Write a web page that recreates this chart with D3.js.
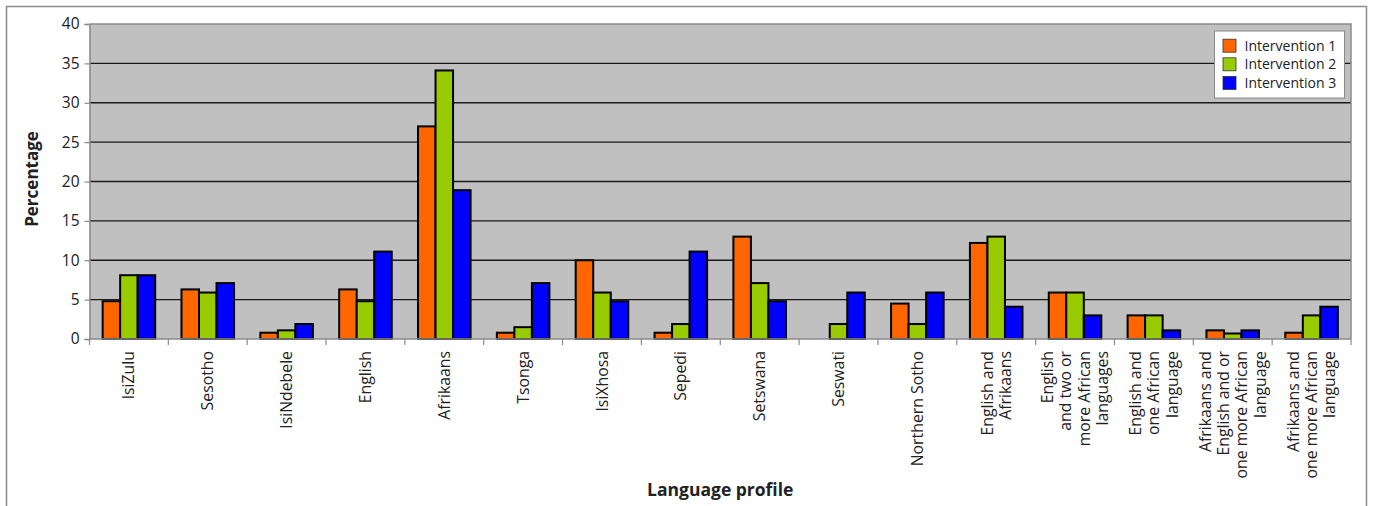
<!DOCTYPE html>
<html>
<head>
<meta charset="utf-8">
<script src="https://cdn.jsdelivr.net/npm/d3@7"></script>
<style>
  html, body { margin: 0; padding: 0; background: #fff; }
  svg { display: block; }
  text { font-family: "Open Sans", "DejaVu Sans", sans-serif; fill: #222; }
</style>
</head>
<body>
<svg id="chart" width="1373" height="506"></svg>
<script>
// Language profile categories (line breaks marked with "\n")
const categories = [
  "IsiZulu", "Sesotho", "IsiNdebele", "English", "Afrikaans", "Tsonga",
  "IsiXhosa", "Sepedi", "Setswana", "Seswati", "Northern Sotho",
  "English and\nAfrikaans",
  "English\nand two or\nmore African\nlanguages",
  "English and\none African\nlanguage",
  "Afrikaans and\nEnglish and or\none more African\nlanguage",
  "Afrikaans and\none more African\nlanguage"
];

const seriesNames = ["Intervention 1", "Intervention 2", "Intervention 3"];
const seriesColors = ["#FF6600", "#99CC00", "#0000FF"];

// Percentages per intervention, in category order
const intervention1 = [4.8, 6.3, 0.8, 6.3, 27.0, 0.8, 10.0, 0.8, 13.0, 0.0, 4.5, 12.2, 5.9, 3.0, 1.1, 0.8];
const intervention2 = [8.1, 5.9, 1.1, 4.8, 34.1, 1.5, 5.9, 1.9, 7.1, 1.9, 1.9, 13.0, 5.9, 3.0, 0.7, 3.0];
const intervention3 = [8.1, 7.1, 1.9, 11.1, 18.9, 7.1, 4.8, 11.1, 4.8, 5.9, 5.9, 4.1, 3.0, 1.1, 1.1, 4.1];

const yTicks = [0, 5, 10, 15, 20, 25, 30, 35, 40];

const series = [intervention1, intervention2, intervention3];

const svg = d3.select("#chart");

// Chart frame
svg.append("rect")
  .attr("x", 6.5).attr("y", 6.5)
  .attr("width", 1360).attr("height", 520)
  .attr("fill", "#fff").attr("stroke", "#8c8c8c").attr("stroke-width", 1.5);

const plot = { left: 89.5, right: 1351, top: 24, bottom: 339 };

const x0 = d3.scaleBand()
  .domain(categories)
  .range([plot.left, plot.right])
  .padding(0);

const x1 = d3.scaleBand()
  .domain(seriesNames)
  .range([0, x0.bandwidth()])
  .paddingInner(0)
  .paddingOuter(0.75);

const y = d3.scaleLinear()
  .domain([0, 40])
  .range([plot.bottom, plot.top]);

// Plot background
svg.append("rect")
  .attr("x", plot.left).attr("y", plot.top)
  .attr("width", plot.right - plot.left)
  .attr("height", plot.bottom - plot.top)
  .attr("fill", "#c0c0c0");

// Horizontal gridlines
svg.append("g")
  .selectAll("line")
  .data(yTicks.filter(t => t > 0 && t < 40))
  .join("line")
  .attr("x1", plot.left).attr("x2", plot.right)
  .attr("y1", d => y(d)).attr("y2", d => y(d))
  .attr("stroke", "#1a1a1a").attr("stroke-width", 1.4);

// Plot border (top and right)
svg.append("path")
  .attr("d", `M${plot.left},${plot.top}H${plot.right}V${plot.bottom}`)
  .attr("fill", "none").attr("stroke", "#8a8a8a").attr("stroke-width", 1.5);

// Bars
const groups = svg.append("g")
  .selectAll("g")
  .data(categories)
  .join("g")
  .attr("transform", d => `translate(${x0(d)},0)`);

groups.selectAll("rect")
  .data((d, i) => seriesNames.map((s, k) => ({ s, k, v: series[k][i] })))
  .join("rect")
  .attr("x", d => x1(d.s))
  .attr("width", x1.bandwidth())
  .attr("y", d => y(d.v))
  .attr("height", d => y(0) - y(d.v))
  .attr("fill", d => seriesColors[d.k])
  .attr("stroke", d => d.v > 0 ? "#000" : "none")
  .attr("stroke-width", 2);

// Y axis
const yAxis = svg.append("g")
  .attr("transform", `translate(${plot.left},0)`)
  .call(d3.axisLeft(y).tickValues(yTicks).tickSize(5).tickPadding(5).tickFormat(d3.format("d")));
yAxis.select(".domain").attr("stroke", "#8a8a8a").attr("stroke-width", 1.5);
yAxis.selectAll(".tick line").attr("stroke", "#8a8a8a").attr("stroke-width", 1.2);
yAxis.selectAll(".tick text")
  .attr("font-family", "Open Sans, sans-serif")
  .attr("font-size", 15.5)
  .attr("fill", "#333");

// X axis: tick marks on category boundaries
const boundaries = categories.map(c => x0(c)).concat([plot.right]);
svg.append("line")
  .attr("x1", plot.left).attr("x2", plot.right)
  .attr("y1", plot.bottom).attr("y2", plot.bottom)
  .attr("stroke", "#8a8a8a").attr("stroke-width", 1.5);
svg.append("g")
  .selectAll("line")
  .data(boundaries)
  .join("line")
  .attr("x1", d => d).attr("x2", d => d)
  .attr("y1", plot.bottom).attr("y2", plot.bottom + 6)
  .attr("stroke", "#8a8a8a").attr("stroke-width", 1.2);

// Category labels, rotated, right-aligned under the axis
const lineH = 18.3;
const labels = svg.append("g")
  .selectAll("text")
  .data(categories)
  .join("text")
  .attr("transform", d => `translate(${x0(d) + x0.bandwidth() / 2},351) rotate(-90)`)
  .attr("text-anchor", "end")
  .attr("font-size", 15.8)
  .attr("fill", "#222");
labels.each(function(d) {
  const lines = d.split("\n");
  const n = lines.length;
  d3.select(this).selectAll("tspan")
    .data(lines)
    .join("tspan")
    .attr("x", 0)
    .attr("y", (l, k) => (k - (n - 1) / 2) * lineH)
    .attr("dy", "0.35em")
    .text(l => l);
});

// Axis titles
svg.append("text")
  .attr("transform", `translate(38,179) rotate(-90)`)
  .attr("text-anchor", "middle")
  .attr("font-size", 17)
  .attr("font-weight", "bold")
  .attr("fill", "#222")
  .text("Percentage");

svg.append("text")
  .attr("x", (plot.left + plot.right) / 2)
  .attr("y", 496)
  .attr("text-anchor", "middle")
  .attr("font-size", 17.5)
  .attr("font-weight", "bold")
  .attr("fill", "#222")
  .text("Language profile");

// Legend
const legend = svg.append("g").attr("transform", "translate(1214.5,31)");
legend.append("rect")
  .attr("width", 130).attr("height", 67)
  .attr("fill", "#fff").attr("stroke", "#8a8a8a").attr("stroke-width", 1);
const items = legend.selectAll("g.item")
  .data(seriesNames)
  .join("g")
  .attr("class", "item")
  .attr("transform", (d, i) => `translate(8.5,${14.7 + i * 18.6})`);
items.append("rect")
  .attr("x", 0).attr("y", -6.5)
  .attr("width", 13).attr("height", 13)
  .attr("fill", (d, i) => seriesColors[i])
  .attr("stroke", "#333").attr("stroke-width", 0.8);
items.append("text")
  .attr("x", 21.5).attr("y", 0)
  .attr("dy", "0.35em")
  .attr("font-size", 14)
  .attr("fill", "#222")
  .text(d => d);
</script>
</body>
</html>
